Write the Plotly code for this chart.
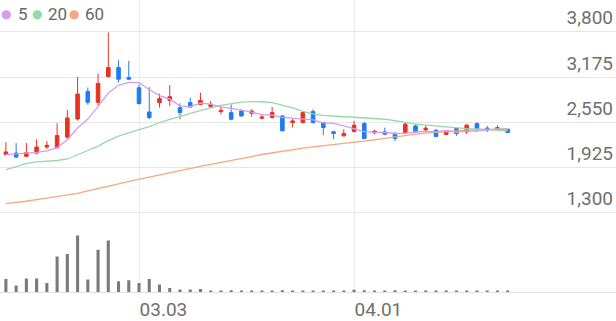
import plotly.graph_objects as go

# ---- data ----
idx = list(range(50))
opens = [2105, 2124, 2079, 2124, 2207, 2197, 2344, 2595, 2976, 2825,
         3182, 3305, 3168, 3027, 2692, 2821, 2852, 2752, 2821, 2797,
         2766, 2697, 2683, 2705, 2674, 2605, 2615, 2637, 2546, 2546,
         2697, 2546, 2417, 2362, 2422, 2532, 2403, 2417, 2395, 2408,
         2499, 2444, 2440, 2381, 2463, 2417, 2532, 2468, 2477, 2454]
highs = [2275, 2262, 2262, 2313, 2289, 2536, 2719, 3178, 3031, 3223,
         3790, 3406, 3398, 3072, 3035, 2944, 3062, 2811, 2889, 2958,
         2843, 2760, 2797, 2729, 2729, 2660, 2760, 2645, 2601, 2705,
         2729, 2554, 2431, 2454, 2568, 2554, 2444, 2477, 2417, 2546,
         2523, 2499, 2454, 2431, 2477, 2523, 2546, 2499, 2509, 2460]
lows = [2097, 2056, 2069, 2106, 2183, 2190, 2321, 2573, 2793, 2779,
        3168, 3099, 3131, 2797, 2591, 2752, 2774, 2591, 2752, 2788,
        2742, 2660, 2577, 2628, 2628, 2591, 2601, 2425, 2477, 2532,
        2532, 2371, 2317, 2354, 2408, 2326, 2385, 2371, 2293, 2399,
        2408, 2431, 2340, 2371, 2362, 2385, 2417, 2417, 2431, 2400]
closes = [2140, 2069, 2128, 2207, 2230, 2367, 2609, 2939, 2825, 3086,
          3305, 3145, 3145, 2807, 2615, 2876, 2903, 2683, 2760, 2852,
          2797, 2715, 2591, 2637, 2705, 2623, 2683, 2431, 2568, 2683,
          2546, 2477, 2395, 2395, 2509, 2326, 2426, 2385, 2326, 2523,
          2417, 2468, 2354, 2422, 2395, 2509, 2454, 2440, 2454, 2408]
ma5 = [2101, 2113, 2115, 2134, 2155, 2200, 2308, 2470, 2594, 2765,
       2953, 3060, 3101, 3098, 3003, 2918, 2869, 2777, 2767, 2815,
       2799, 2761, 2743, 2718, 2689, 2654, 2648, 2616, 2602, 2598,
       2582, 2541, 2534, 2499, 2464, 2420, 2410, 2408, 2394, 2397,
       2415, 2424, 2418, 2437, 2411, 2430, 2427, 2444, 2450, 2453]
ma20 = [1891, 1939, 1980, 2001, 2010, 2021, 2042, 2097, 2159, 2220,
        2296, 2358, 2406, 2447, 2488, 2546, 2591, 2626, 2674, 2715,
        2749, 2784, 2811, 2829, 2834, 2833, 2821, 2790, 2749, 2701,
        2667, 2646, 2632, 2626, 2619, 2612, 2605, 2591, 2571, 2543,
        2523, 2509, 2495, 2481, 2470, 2463, 2457, 2447, 2437, 2430]
ma60 = [1424, 1437, 1458, 1479, 1499, 1520, 1538, 1568, 1600, 1630,
        1664, 1698, 1733, 1763, 1794, 1826, 1859, 1884, 1911, 1939,
        1966, 1991, 2017, 2042, 2076, 2104, 2127, 2152, 2175, 2193,
        2209, 2224, 2240, 2255, 2268, 2289, 2307, 2326, 2347, 2367,
        2385, 2399, 2413, 2422, 2431, 2440, 2447, 2454, 2459, 2463]
volume = [1330000, 670000, 1370000, 1370000, 930000, 3600000, 3830000, 5700000, 1270000, 4270000,
          5200000, 1100000, 1200000, 930000, 1330000, 770000, 430000, 270000, 270000, 330000,
          170000, 170000, 200000, 170000, 170000, 150000, 180000, 200000, 150000, 180000,
          150000, 140000, 150000, 160000, 250000, 200000, 150000, 150000, 200000, 150000,
          130000, 130000, 140000, 130000, 120000, 130000, 120000, 110000, 110000, 100000]
date_ticks = [13, 34]
date_labels = ["03.03", "04.01"]
price_ticks = [1300, 1925, 2550, 3175, 3800]
price_labels = ["1,300", "1,925", "2,550", "3,175", "3,800"]
legend_names = ["5", "20", "60"]

RED = "#e8321e"
BLUE = "#1f7cf0"
C5 = "#d49cf2"
C20 = "#94daa6"
C60 = "#f8a67e"
TXT = "#707070"
GRID = "#e6e6e6"
FONT = "Roboto"
W, H = 616, 321

fig = go.Figure()
fig.add_trace(go.Scatter(x=idx, y=ma60, mode="lines", line=dict(color=C60, width=1.3),
                         xaxis="x", yaxis="y", hoverinfo="skip"))
fig.add_trace(go.Scatter(x=idx, y=ma20, mode="lines", line=dict(color=C20, width=1.3),
                         xaxis="x", yaxis="y", hoverinfo="skip"))
fig.add_trace(go.Scatter(x=idx, y=ma5, mode="lines", line=dict(color=C5, width=1.3),
                         xaxis="x", yaxis="y", hoverinfo="skip"))
fig.add_trace(go.Candlestick(
    x=idx, open=opens, high=highs, low=lows, close=closes,
    increasing=dict(line=dict(color=RED, width=1), fillcolor=RED),
    decreasing=dict(line=dict(color=BLUE, width=1), fillcolor=BLUE),
    whiskerwidth=0, xaxis="x", yaxis="y", hoverinfo="skip"))
fig.add_trace(go.Bar(x=idx, y=volume, width=0.3, marker=dict(color="#7a7a7a", line=dict(width=0)),
                     xaxis="x", yaxis="y2", hoverinfo="skip"))

# legend: coloured dots + labels
annotations = []
dot_x = [6, 37, 74]
txt_x = [16, 46, 83]
for name, col, dx, tx in zip(legend_names, [C5, C20, C60], dot_x, txt_x):
    annotations.append(dict(xref="paper", yref="paper", x=dx / W, y=1 - 14 / H,
                            xanchor="center", yanchor="middle", showarrow=False,
                            text="●", font=dict(size=12, color=col, family="DejaVu Sans")))
    annotations.append(dict(xref="paper", yref="paper", x=tx / W, y=1 - 14.5 / H,
                            xanchor="left", yanchor="middle", showarrow=False,
                            text=name, font=dict(size=17, color="#666666", family=FONT)))

fig.update_layout(
    width=W, height=H,
    margin=dict(l=0, r=0, t=0, b=0),
    paper_bgcolor="white", plot_bgcolor="white",
    showlegend=False,
    boxgap=0.5,
    font=dict(family=FONT, color=TXT),
    xaxis=dict(
        domain=[0, 1], range=[-0.576, 59.58], anchor="y2",
        tickmode="array", tickvals=date_ticks, ticktext=date_labels,
        ticklabelposition="outside right",
        tickfont=dict(size=19, color=TXT, family=FONT),
        showgrid=True, gridcolor="#ececec", gridwidth=1,
        showline=True, linecolor="#e3e3e3", linewidth=1,
        zeroline=False, ticks="",
        rangeslider=dict(visible=False),
    ),
    yaxis=dict(
        domain=[1 - 222 / H, 1.0], range=[1190.1, 4239.6], anchor="x",
        side="right", tickmode="array", tickvals=price_ticks, ticktext=price_labels,
        ticklabelposition="inside", ticklabelshift=-14,
        tickfont=dict(size=19, color=TXT, family=FONT),
        showgrid=True, gridcolor=GRID, gridwidth=1, layer="below traces",
        zeroline=False, showline=False, ticks="",
    ),
    yaxis2=dict(
        domain=[1 - 294 / H, 1 - 222 / H], range=[0, 7200000], anchor="x",
        showgrid=False, zeroline=False, showticklabels=False, showline=False, ticks="",
    ),
    annotations=annotations,
)

fig.write_html("out.html")
